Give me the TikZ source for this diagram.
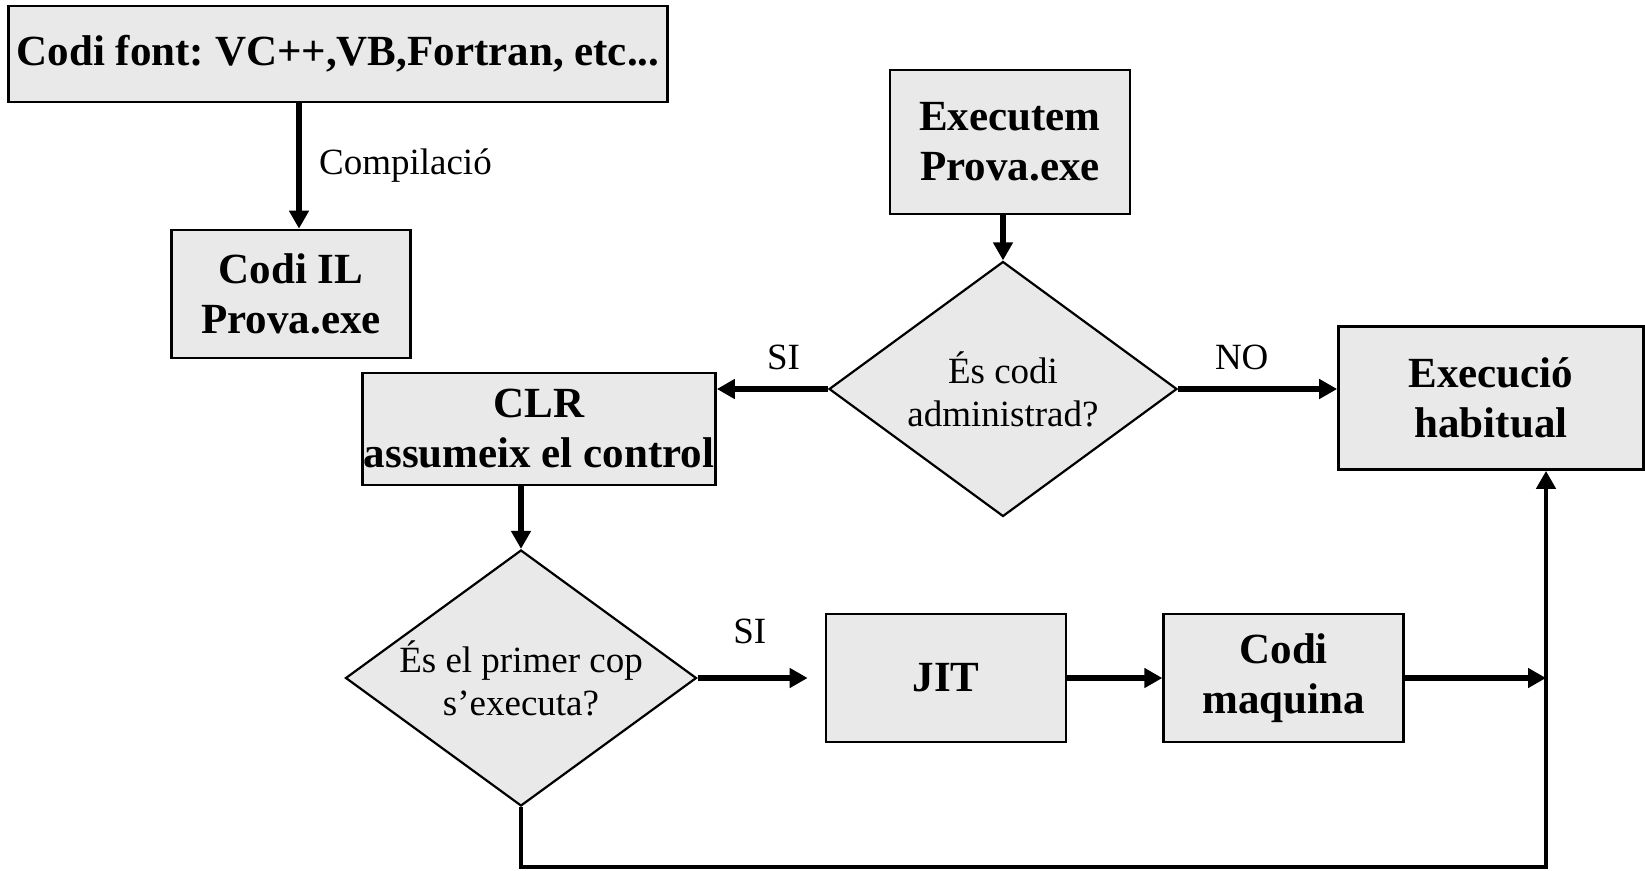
\documentclass[tikz,border=0pt]{standalone}
\usepackage{fontspec}
\setmainfont{Liberation Serif}
\frenchspacing
\usetikzlibrary{shapes.geometric}
\usetikzlibrary{positioning}
\usetikzlibrary{arrows.meta}
\definecolor{boxgray}{HTML}{E9E9E9}
\tikzset{x=1pt, y=-1pt,
node distance=95pt,
box/.style={
draw, line width=2.7pt,
fill=boxgray,
inner sep=0pt,
align=center,
font=\fontsize{43}{50}\selectfont\bfseries},
decision/.style={
diamond, aspect=1.4, draw, line width=2.2pt,
fill=boxgray,
inner sep=-20pt,
align=center,
font=\fontsize{37}{43}\selectfont},
label/.style={
font=\fontsize{37}{43}\selectfont},
flow/.style={
draw,
line width=5.5pt,
-{Triangle[length=18pt, width=19pt]}}}

\begin{document}
\begin{tikzpicture}
\useasboundingbox (0,0) rectangle (1645,870);
\node[box, minimum width=659pt, minimum height=96pt] (src) at (338,54) {Codi font: VC++,VB,Fortran, etc...};
\node[box, minimum width=239pt, minimum height=128pt] (il) at (291,294) {Codi IL\\Prova.exe};
\node[box, minimum width=240pt, minimum height=144pt] (exec) at (1010,142) {Executem\\Prova.exe};
\node[decision, minimum width=348pt, minimum height=255pt] (admin) at (1003,389) {És codi\\administrad?};
\node[box, minimum width=353pt, minimum height=112pt] (clr) at (539,429) {CLR\\assumeix el control};
\node[box, minimum width=305pt, minimum height=143pt] (usual) at (1491,398) {Execució\\habitual};
\node[decision, minimum width=351pt, minimum height=256pt] (first) at (521,678) {És el primer cop\\s’executa?};
\node[box, minimum width=240pt, minimum height=128pt] (jit) at (946,678) {JIT};
\node[box, minimum width=240pt, minimum height=128pt, right=of jit] (native) {Codi\\maquina};
\coordinate (join) at (1546,678);
\coordinate (corner) at (1546,867);
\draw[flow] ([xshift=8pt]il.north |- src.south) -- node[label, right=14pt]{Compilació} ([xshift=8pt]il.north);
\draw[flow] (exec.south -| admin.north) -- (admin.north);
\draw[flow] (admin.west) -- node[label, above=13pt, pos=.4]{SI} (admin.west -| clr.east);
\draw[flow] (admin.east) -- node[label, above=13pt, pos=.4]{NO} (admin.east -| usual.west);
\draw[flow] (clr.south -| first.north) -- (first.north);
\draw[flow, shorten >=17pt] (first.east) -- node[label, above=28pt, pos=.41]{SI} (jit.west);
\draw[flow] (jit.east) -- (native.west);
\draw[flow] (native.east) -- (join);
\draw[flow, line width=4.5pt] (first.south) |- (corner) -- (corner |- usual.south);
\end{tikzpicture}
\end{document}
